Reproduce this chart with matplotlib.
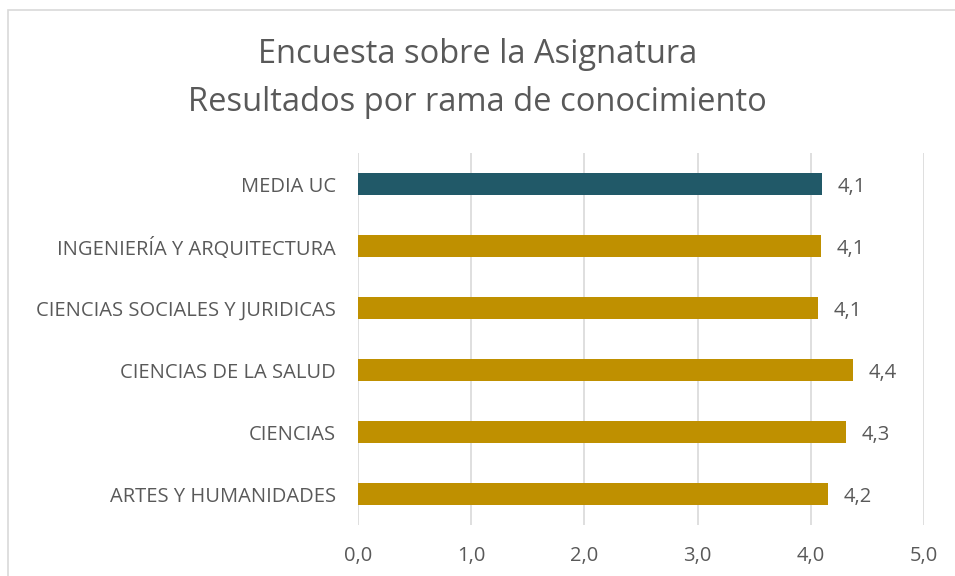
import matplotlib as mpl
import matplotlib.pyplot as plt
from matplotlib.patches import Rectangle

mpl.rcParams['font.family'] = ['Open Sans', 'DejaVu Sans']

# datos
ramas = ['ARTES Y HUMANIDADES', 'CIENCIAS', 'CIENCIAS DE LA SALUD',
         'CIENCIAS SOCIALES Y JURIDICAS', 'INGENIERÍA Y ARQUITECTURA', 'MEDIA UC']
valores = [4.15, 4.31, 4.37, 4.06, 4.09, 4.10]
colores = ['#BF9000', '#BF9000', '#BF9000', '#BF9000', '#BF9000', '#215968']
ticks_x = [0, 1, 2, 3, 4, 5]

gris = '#595959'

fig = plt.figure(figsize=(9.55, 5.76), dpi=100)
ax = fig.add_axes([0.375, 0.0885, 0.5925, 0.6455])

ax.barh(ramas, valores, height=0.36, color=colores, zorder=3)
for y, v in enumerate(valores):
    ax.text(v + 0.14, y, f'{v:.1f}'.replace('.', ','), ha='left', va='center_baseline',
            fontsize=14.5, color=gris)

ax.set_xlim(0, 5)
ax.set_ylim(-0.5, 5.5)
ax.set_xticks(ticks_x)
ax.set_xticklabels([f'{t:.1f}'.replace('.', ',') for t in ticks_x])
ax.grid(axis='x', color='#D9D9D9', linewidth=1.2, zorder=0)
for s in ax.spines.values():
    s.set_visible(False)
ax.tick_params(axis='both', length=0, labelsize=14.5, labelcolor=gris)
ax.tick_params(axis='x', pad=15)
ax.tick_params(axis='y', pad=16)

fig.text(0.5, 0.905, 'Encuesta sobre la Asignatura', ha='center', va='center',
         fontsize=23.5, color=gris)
fig.text(0.5, 0.822, 'Resultados por rama de conocimiento', ha='center', va='center',
         fontsize=23.5, color=gris)

# marco del gráfico
fig.patches.append(Rectangle((7.5 / 955, -0.1), 1.2, 1 - 9.5 / 576 + 0.1,
                             transform=fig.transFigure, fill=False,
                             edgecolor='#D9D9D9', linewidth=1.2))

fig.savefig('out.png', dpi=100)
